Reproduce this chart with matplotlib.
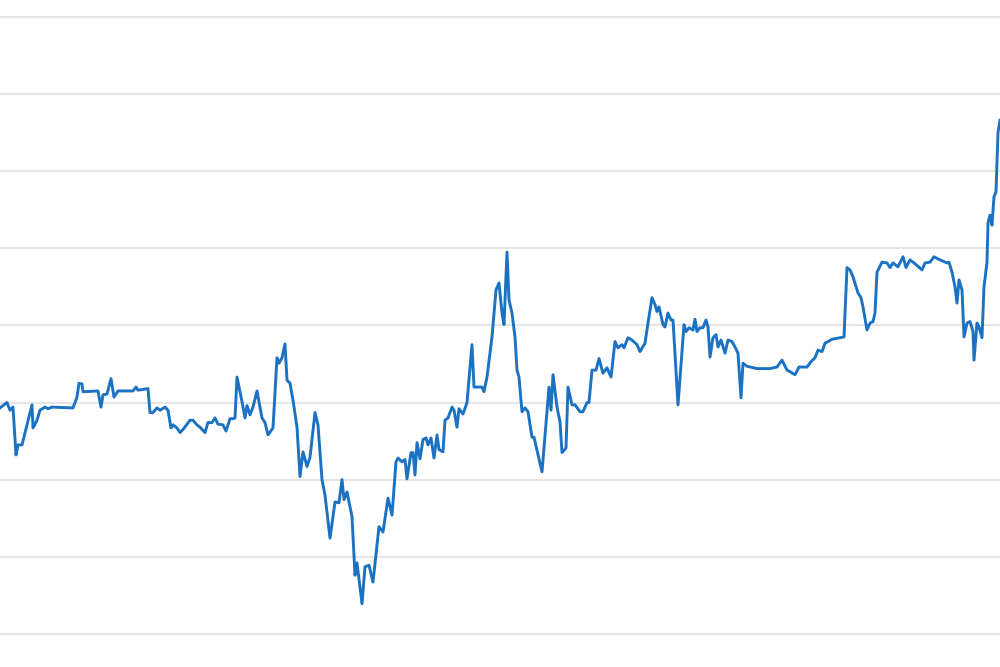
import matplotlib
matplotlib.use("Agg")
import matplotlib.pyplot as plt

# day index and value (no axis labels visible, gridlines every 10)
day = [0, 7, 10, 13, 16, 18, 22, 32, 33, 37, 40, 45, 48, 52, 73, 77, 79, 82, 83, 98,
       101, 103, 107, 111, 114, 118, 133, 136, 138, 148, 150, 153, 157, 160, 165, 168,
       171, 173, 177, 180, 183, 190, 193, 197, 200, 205, 208, 212, 215, 218, 223, 226,
       230, 233, 235, 237, 242, 245, 247, 250, 253, 257, 262, 265, 268, 273, 277, 279,
       282, 285, 287, 290, 293, 297, 300, 303, 307, 310, 315, 318, 322, 325, 330, 335,
       339, 342, 344, 347, 352, 355, 357, 362, 365, 369, 373, 379, 383, 388, 392, 396,
       398, 402, 405, 407, 411, 413, 415, 417, 420, 423, 426, 428, 431, 434, 437, 439,
       443, 445, 448, 452, 454, 457, 459, 463, 467, 472, 474, 478, 482, 484, 487, 492,
       496, 499, 502, 504, 507, 509, 512, 515, 517, 519, 522, 525, 528, 532, 534, 542,
       549, 551, 553, 557, 560, 562, 566, 568, 572, 575, 580, 583, 587, 589, 592, 596,
       599, 603, 607, 611, 615, 618, 622, 624, 628, 632, 637, 640, 645, 648, 652, 655,
       657, 659, 663, 665, 668, 671, 673, 678, 684, 686, 689, 693, 695, 697, 700, 703,
       706, 708, 710, 713, 716, 718, 721, 725, 728, 732, 735, 738, 741, 743, 747, 757,
       770, 777, 782, 787, 790, 795, 799, 807, 811, 815, 818, 822, 825, 828, 832, 840,
       844, 847, 850, 853, 858, 861, 863, 867, 870, 873, 875, 877, 882, 887, 890, 893,
       898, 903, 906, 910, 915, 922, 925, 930, 934, 940, 947, 949, 952, 955, 957, 959,
       962, 964, 967, 970, 973, 974, 977, 979, 982, 984, 987, 988, 990, 992, 994, 996,
       998, 1000]

value = [29.3, 30.0, 29.0, 29.4, 23.2, 24.5, 24.5, 29.7, 26.7, 27.7, 29.0, 29.4, 29.2, 29.4,
         29.3, 30.7, 32.5, 32.4, 31.4, 31.5, 29.4, 31.0, 31.1, 33.1, 30.7, 31.5, 31.5, 32.0,
         31.6, 31.8, 28.7, 28.7, 29.3, 29.0, 29.4, 29.0, 26.7, 27.1, 26.7, 26.1, 26.5, 27.7,
         27.7, 27.1, 26.8, 26.1, 27.4, 27.4, 28.0, 27.2, 27.1, 26.3, 27.9, 27.9, 28.0, 33.3,
         30.1, 28.0, 29.6, 28.4, 29.4, 31.5, 28.0, 27.4, 25.8, 26.7, 35.8, 35.1, 35.8, 37.6,
         32.9, 32.5, 30.3, 26.8, 20.4, 23.6, 21.7, 22.9, 28.7, 27.1, 20.0, 18.0, 12.4, 17.1,
         17.0, 20.0, 17.4, 18.4, 15.2, 7.6, 9.2, 3.9, 8.7, 8.9, 6.7, 13.9, 13.2, 17.6,
         15.4, 22.3, 22.8, 22.3, 22.6, 20.1, 23.5, 23.5, 20.6, 24.8, 22.7, 25.2, 25.4, 24.5,
         25.4, 22.8, 25.8, 23.9, 23.6, 27.7, 28.0, 29.4, 29.0, 26.8, 29.2, 28.5, 30.0, 37.5,
         32.0, 32.0, 32.0, 31.4, 33.3, 38.5, 44.6, 45.5, 41.6, 40.1, 49.5, 43.3, 41.6, 38.5,
         34.2, 33.3, 28.8, 29.3, 28.8, 25.5, 25.5, 21.0, 32.0, 29.0, 33.6, 29.4, 27.5, 23.5,
         24.1, 32.0, 29.7, 29.7, 28.8, 28.8, 30.0, 30.0, 34.2, 34.2, 35.7, 33.8, 34.5, 33.3,
         37.9, 37.1, 37.5, 37.1, 38.4, 38.1, 37.5, 36.6, 37.7, 40.3, 43.6, 42.7, 41.8, 42.4,
         40.1, 39.8, 41.6, 40.7, 40.7, 29.7, 40.1, 39.2, 39.7, 39.4, 40.8, 39.2, 39.7, 39.7,
         40.7, 39.8, 35.9, 38.4, 38.8, 37.2, 38.1, 36.4, 38.1, 37.9, 37.2, 36.4, 30.6, 35.1,
         34.7, 34.4, 34.4, 34.6, 35.5, 34.2, 34.0, 33.6, 34.6, 34.6, 35.3, 35.8, 36.8, 36.6,
         37.7, 37.9, 38.2, 38.4, 38.5, 47.5, 47.2, 46.3, 44.2, 43.6, 42.4, 39.4, 40.3, 40.5,
         41.6, 46.9, 48.2, 48.1, 47.5, 48.1, 47.6, 48.9, 47.5, 48.5, 48.0, 47.2, 48.1, 48.2,
         48.9, 48.5, 48.1, 48.2, 46.9, 45.0, 42.9, 45.9, 44.6, 38.5, 40.3, 40.5, 39.2, 35.5,
         40.3, 39.8, 38.4, 45.0, 48.2, 53.3, 54.3, 53.0, 56.7, 57.3, 65.0, 66.6]

grid_levels = [0, 10, 20, 30, 40, 50, 60, 70, 80]

fig = plt.figure(figsize=(10, 6.67), dpi=100)
ax = fig.add_axes([0, 0, 1, 1])

for lvl in grid_levels:
    ax.axhline(lvl, color="#e0e0e0", lw=1.2, zorder=1)

ax.plot(day, value, color="#1c72c2", lw=2.1, solid_joinstyle="round", zorder=3)

ax.set_xlim(0, 1000)
ax.set_ylim(-4.3, 82.2)
ax.axis("off")

fig.savefig("out.png", dpi=100)
